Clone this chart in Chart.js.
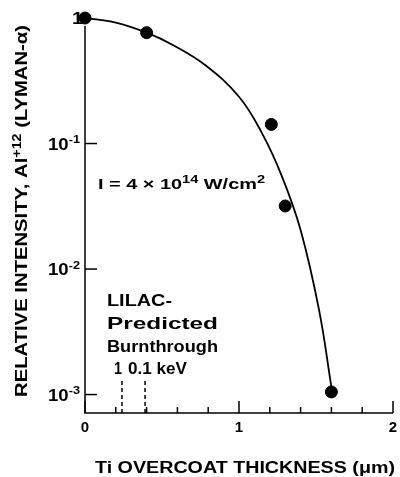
<!DOCTYPE html>
<html>
<head>
<meta charset="utf-8">
<script src="https://cdn.jsdelivr.net/npm/chart.js@4.4.1/dist/chart.umd.min.js"></script>
<style>
    body { margin: 0; background: #fff; }
    #chart { display: block; }
</style>
</head>
<body>
<canvas id="chart" width="400" height="477"></canvas>
<script>
// Measured points (Ti overcoat thickness in um, relative intensity)
var thickness = [0, 0.4, 1.21, 1.3, 1.6];
var intensity = [1, 0.764, 0.142, 0.0318, 0.00105];

// Hand-drawn fit curve
var curveThickness = [0, 0.2, 0.4, 0.57, 0.78, 1.0, 1.15, 1.28, 1.4, 1.52, 1.6];
var curveIntensity = [1, 0.92, 0.764, 0.61, 0.422, 0.236, 0.1205, 0.0543, 0.0205, 0.00471, 0.00115];

// Axis ticks
var yTicks = [1, 0.1, 0.01, 0.001];
var yTickExp = ['', '-1', '-2', '-3'];
var xTicks = [0, 1, 2];
var xTickLabels = ['0', '1', '2'];
var xMinorTicks = [0.2, 0.4, 0.6, 0.8, 1.2, 1.4, 1.6, 1.8];

// LILAC predicted burnthrough markers
var burnthrough = [0.24, 0.39];
var burnthroughLabels = ['1', '0.1 keV'];

var FONT = '"Liberation Sans", Arial, sans-serif';

function bold(size) {
    return 'bold ' + size + 'px ' + FONT;
}

function partSize(p, size) {
    return p.sup ? Math.round(size * 0.7) : size;
}

function richWidth(ctx, parts, size) {
    var w = 0;
    parts.forEach(function (p) {
        ctx.font = bold(partSize(p, size));
        w += ctx.measureText(p.t).width;
    });
    return w;
}

// draw text pieces (some raised as superscripts) starting at x, stretched to the given width
function fitRich(ctx, parts, x, y, size, width) {
    if (typeof parts === 'string') parts = [{t: parts}];
    var natural = richWidth(ctx, parts, size);
    var sx = width ? width / natural : 1;
    ctx.save();
    ctx.translate(x, y);
    ctx.scale(sx, 1);
    ctx.textAlign = 'left';
    var cx = 0;
    parts.forEach(function (p) {
        ctx.font = bold(partSize(p, size));
        ctx.fillText(p.t, cx, p.sup ? -size * 0.38 : 0);
        cx += ctx.measureText(p.t).width;
    });
    ctx.restore();
}

var axesPlugin = {
    id: 'axesPlugin',
    beforeDatasetsDraw: function (chart) {
        var ctx = chart.ctx;
        var xs = chart.scales.x;
        var ys = chart.scales.y;
        var area = chart.chartArea;

        ctx.save();
        ctx.strokeStyle = '#000';
        ctx.fillStyle = '#000';
        ctx.lineWidth = 1.5;
        ctx.textBaseline = 'alphabetic';

        // axis lines
        ctx.beginPath();
        ctx.moveTo(area.left, area.top + 8);
        ctx.lineTo(area.left, area.bottom);
        ctx.lineTo(area.right, area.bottom);
        ctx.stroke();

        // y ticks and labels
        yTicks.forEach(function (v, i) {
            var py = ys.getPixelForValue(v);
            if (i > 0) {
                ctx.beginPath();
                ctx.moveTo(area.left, py);
                ctx.lineTo(area.left + 12, py);
                ctx.stroke();
                fitRich(ctx, [{t: '10'}, {t: yTickExp[i], sup: true}], 48, py + 6, 16, 32);
            } else {
                fitRich(ctx, '1', 72, py + 6, 16, 11);
            }
        });

        // x ticks
        xTicks.forEach(function (v) {
            var px = xs.getPixelForValue(v);
            ctx.beginPath();
            ctx.moveTo(px, area.bottom);
            ctx.lineTo(px, area.bottom - 12);
            ctx.stroke();
        });
        xMinorTicks.forEach(function (v) {
            var px = xs.getPixelForValue(v);
            ctx.beginPath();
            ctx.moveTo(px, area.bottom);
            ctx.lineTo(px, area.bottom - 6);
            ctx.stroke();
        });
        ctx.font = bold(15);
        ctx.textAlign = 'center';
        xTicks.forEach(function (v, i) {
            ctx.fillText(xTickLabels[i], xs.getPixelForValue(v), area.bottom + 19);
        });

        // burnthrough dashed markers
        ctx.setLineDash([4, 3]);
        burnthrough.forEach(function (v) {
            var px = xs.getPixelForValue(v);
            ctx.beginPath();
            ctx.moveTo(px, area.bottom);
            ctx.lineTo(px, area.bottom - 35);
            ctx.stroke();
        });
        ctx.setLineDash([]);

        // annotation text
        fitRich(ctx, 'LILAC-', 107, 306, 17, 65);
        fitRich(ctx, 'Predicted', 107, 329, 17, 111);
        fitRich(ctx, 'Burnthrough', 107, 352, 17, 111);
        fitRich(ctx, burnthroughLabels[0], 114, 374, 17, 8);
        fitRich(ctx, burnthroughLabels[1], 128, 374, 17, 59);

        fitRich(ctx, [
            {t: 'I = 4 \u00d7 10'}, {t: '14', sup: true}, {t: ' W/cm'}, {t: '2', sup: true}
        ], 98, 189, 15, 167);

        // x title
        fitRich(ctx, 'Ti OVERCOAT THICKNESS (\u03bcm)', 95, 473, 16, 300);

        // y title, rotated
        ctx.translate(27, 397);
        ctx.rotate(-Math.PI / 2);
        fitRich(ctx, [
            {t: 'RELATIVE INTENSITY, Al'}, {t: '+12', sup: true}, {t: ' (LYMAN-\u03b1)'}
        ], 0, 0, 17, 372);

        ctx.restore();
    }
};

var ctx = document.getElementById('chart').getContext('2d');
new Chart(ctx, {
    type: 'scatter',
    data: {
        datasets: [{
            type: 'line',
            data: curveThickness.map(function (x, i) { return {x: x, y: curveIntensity[i]}; }),
            borderColor: '#000',
            borderWidth: 1.8,
            pointRadius: 0,
            tension: 0.4,
            fill: false,
            clip: false
        }, {
            data: thickness.map(function (x, i) { return {x: x, y: intensity[i]}; }),
            backgroundColor: '#000',
            borderColor: '#000',
            pointRadius: 6,
            clip: false
        }]
    },
    options: {
        responsive: false,
        animation: false,
        layout: {
            padding: { left: 85, right: 4, top: 18, bottom: 64 }
        },
        plugins: {
            legend: { display: false },
            tooltip: { enabled: false }
        },
        scales: {
            x: { type: 'linear', min: 0, max: 2, display: false },
            y: { type: 'logarithmic', min: 0.000713, max: 1, display: false }
        }
    },
    plugins: [axesPlugin]
});
</script>
</body>
</html>
